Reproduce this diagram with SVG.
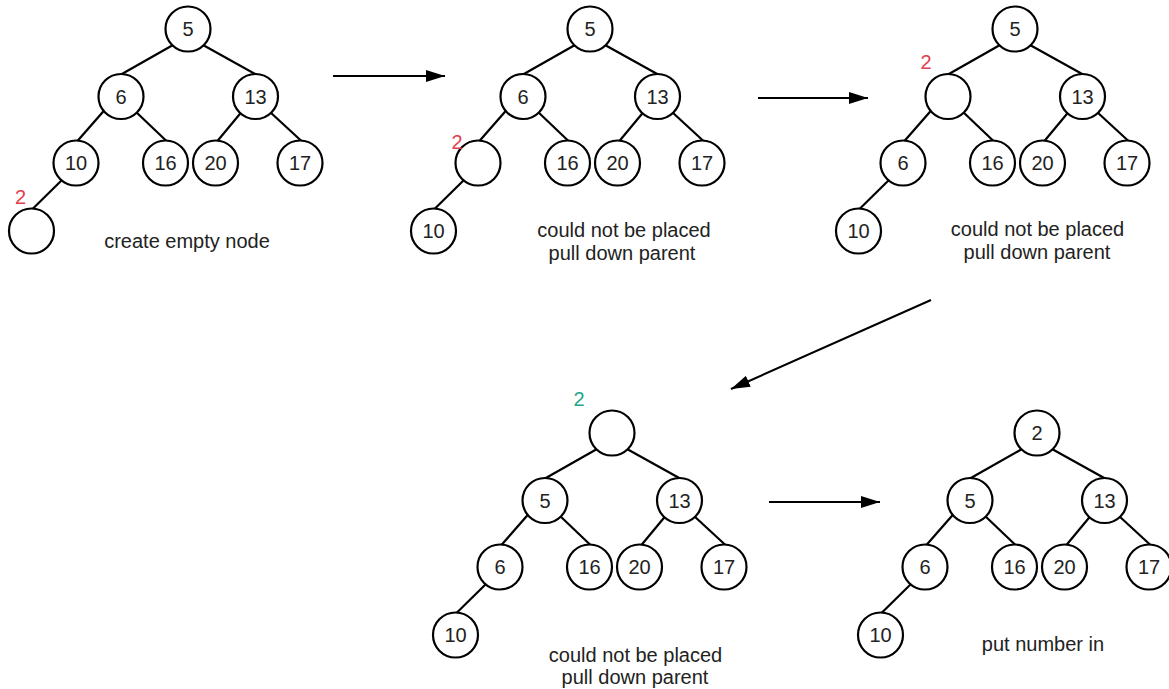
<svg xmlns="http://www.w3.org/2000/svg" width="1169" height="689" viewBox="0 0 1169 689">
  <style>
    .edge { stroke: #000; stroke-width: 2.2; fill: none; }
    .arrow { stroke: #000; stroke-width: 2; fill: none; marker-end: url(#head); }
    .node circle { fill: #fff; stroke: #000; stroke-width: 2.2; }
    .node text, .label { font-family: "Liberation Sans", Arial, sans-serif; font-size: 20px; fill: #222; text-anchor: middle; }
    .new { font-family: "Liberation Sans", Arial, sans-serif; font-size: 20px; text-anchor: middle; }
    .red { fill: #e0404f; }
    .green { fill: #1fa68a; }
  </style>
  <defs>
    <marker id="head" markerUnits="userSpaceOnUse" markerWidth="19" markerHeight="12" refX="19" refY="6" orient="auto">
      <path d="M0,0 L19,6 L0,12 z" fill="#000"/>
    </marker>
    <!-- tree edges, relative to the root node centre -->
    <g id="tree-edges">
      <line x1="-15" y1="16" x2="-67" y2="45.5"/>
      <line x1="15" y1="16" x2="69" y2="46"/>
      <line x1="-83" y1="80.5" x2="-111" y2="112.5"/>
      <line x1="-53" y1="82" x2="-21" y2="112.5"/>
      <line x1="53.5" y1="83" x2="29" y2="112.5"/>
      <line x1="82" y1="83" x2="114" y2="112.5"/>
      <line x1="-125" y1="150" x2="-156" y2="180.5"/>
    </g>
  </defs>

  <g id="connectors">
    <use href="#tree-edges" class="edge" transform="translate(188,29)"/>
    <use href="#tree-edges" class="edge" transform="translate(590,29)"/>
    <use href="#tree-edges" class="edge" transform="translate(1015,29)"/>
    <use href="#tree-edges" class="edge" transform="translate(612,433)"/>
    <use href="#tree-edges" class="edge" transform="translate(1037,433)"/>
    <line class="arrow" x1="333" y1="76" x2="445" y2="76"/>
    <line class="arrow" x1="758" y1="98" x2="868" y2="98"/>
    <line class="arrow" x1="931" y1="300" x2="731" y2="389"/>
    <line class="arrow" x1="769" y1="502" x2="880" y2="502"/>
  </g>

  <!-- step 1: empty slot added -->
  <g id="t1">
    <g id="t1-5" class="node" transform="translate(188,29)"><circle r="22.5"/><text y="7">5</text></g>
    <g id="t1-6" class="node" transform="translate(121,96.5)"><circle r="22.5"/><text y="7">6</text></g>
    <g id="t1-13" class="node" transform="translate(255.5,96.5)"><circle r="22.5"/><text y="7">13</text></g>
    <g id="t1-10" class="node" transform="translate(76,163)"><circle r="22.5"/><text y="7">10</text></g>
    <g id="t1-16" class="node" transform="translate(165.5,163)"><circle r="22.5"/><text y="7">16</text></g>
    <g id="t1-20" class="node" transform="translate(215.5,163)"><circle r="22.5"/><text y="7">20</text></g>
    <g id="t1-17" class="node" transform="translate(300,163)"><circle r="22.5"/><text y="7">17</text></g>
    <g id="t1-empty" class="node" transform="translate(31.5,231)"><circle r="22.5"/></g>
    <text class="new red" x="20.5" y="204">2</text>
    <text class="label" x="187" y="248">create empty node</text>
  </g>

  <!-- step 2: 10 pulled down -->
  <g id="t2">
    <g id="t2-5" class="node" transform="translate(590,29)"><circle r="22.5"/><text y="7">5</text></g>
    <g id="t2-6" class="node" transform="translate(523,96.5)"><circle r="22.5"/><text y="7">6</text></g>
    <g id="t2-13" class="node" transform="translate(657.5,96.5)"><circle r="22.5"/><text y="7">13</text></g>
    <g id="t2-empty" class="node" transform="translate(478,163)"><circle r="22.5"/></g>
    <g id="t2-16" class="node" transform="translate(567.5,163)"><circle r="22.5"/><text y="7">16</text></g>
    <g id="t2-20" class="node" transform="translate(617.5,163)"><circle r="22.5"/><text y="7">20</text></g>
    <g id="t2-17" class="node" transform="translate(702,163)"><circle r="22.5"/><text y="7">17</text></g>
    <g id="t2-10" class="node" transform="translate(433.5,231)"><circle r="22.5"/><text y="7">10</text></g>
    <text class="new red" x="457" y="148.5">2</text>
    <text class="label" x="624" y="237">could not be placed</text>
    <text class="label" x="622" y="260">pull down parent</text>
  </g>

  <!-- step 3: 6 pulled down -->
  <g id="t3">
    <g id="t3-5" class="node" transform="translate(1015,29)"><circle r="22.5"/><text y="7">5</text></g>
    <g id="t3-empty" class="node" transform="translate(948,96.5)"><circle r="22.5"/></g>
    <g id="t3-13" class="node" transform="translate(1082.5,96.5)"><circle r="22.5"/><text y="7">13</text></g>
    <g id="t3-6" class="node" transform="translate(903,163)"><circle r="22.5"/><text y="7">6</text></g>
    <g id="t3-16" class="node" transform="translate(992.5,163)"><circle r="22.5"/><text y="7">16</text></g>
    <g id="t3-20" class="node" transform="translate(1042.5,163)"><circle r="22.5"/><text y="7">20</text></g>
    <g id="t3-17" class="node" transform="translate(1127,163)"><circle r="22.5"/><text y="7">17</text></g>
    <g id="t3-10" class="node" transform="translate(858.5,231)"><circle r="22.5"/><text y="7">10</text></g>
    <text class="new red" x="926" y="69">2</text>
    <text class="label" x="1037.5" y="236">could not be placed</text>
    <text class="label" x="1037" y="259">pull down parent</text>
  </g>

  <!-- step 4: 5 pulled down, root free -->
  <g id="t4">
    <g id="t4-empty" class="node" transform="translate(612,433)"><circle r="22.5"/></g>
    <g id="t4-5" class="node" transform="translate(545,500.5)"><circle r="22.5"/><text y="7">5</text></g>
    <g id="t4-13" class="node" transform="translate(679.5,500.5)"><circle r="22.5"/><text y="7">13</text></g>
    <g id="t4-6" class="node" transform="translate(500,567)"><circle r="22.5"/><text y="7">6</text></g>
    <g id="t4-16" class="node" transform="translate(589.5,567)"><circle r="22.5"/><text y="7">16</text></g>
    <g id="t4-20" class="node" transform="translate(639.5,567)"><circle r="22.5"/><text y="7">20</text></g>
    <g id="t4-17" class="node" transform="translate(724,567)"><circle r="22.5"/><text y="7">17</text></g>
    <g id="t4-10" class="node" transform="translate(455.5,635)"><circle r="22.5"/><text y="7">10</text></g>
    <text class="new green" x="579" y="406">2</text>
    <text class="label" x="635.5" y="662">could not be placed</text>
    <text class="label" x="635" y="684">pull down parent</text>
  </g>

  <!-- step 5: value placed at root -->
  <g id="t5">
    <g id="t5-2" class="node" transform="translate(1037,433)"><circle r="22.5"/><text y="7">2</text></g>
    <g id="t5-5" class="node" transform="translate(970,500.5)"><circle r="22.5"/><text y="7">5</text></g>
    <g id="t5-13" class="node" transform="translate(1104.5,500.5)"><circle r="22.5"/><text y="7">13</text></g>
    <g id="t5-6" class="node" transform="translate(925,567)"><circle r="22.5"/><text y="7">6</text></g>
    <g id="t5-16" class="node" transform="translate(1014.5,567)"><circle r="22.5"/><text y="7">16</text></g>
    <g id="t5-20" class="node" transform="translate(1064.5,567)"><circle r="22.5"/><text y="7">20</text></g>
    <g id="t5-17" class="node" transform="translate(1149,567)"><circle r="22.5"/><text y="7">17</text></g>
    <g id="t5-10" class="node" transform="translate(880.5,635)"><circle r="22.5"/><text y="7">10</text></g>
    <text class="label" x="1043" y="651">put number in</text>
  </g>
</svg>
